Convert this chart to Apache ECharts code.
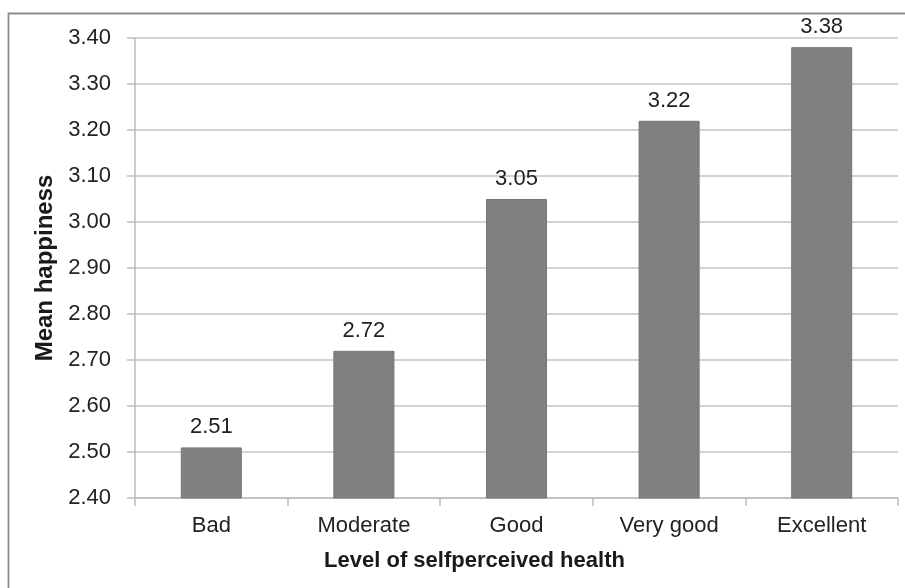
<!DOCTYPE html>
<html>
<head>
<meta charset="utf-8">
<script src="https://cdn.jsdelivr.net/npm/echarts@6/dist/echarts.min.js"></script>
<style>
  html, body { margin: 0; padding: 0; background: #fff; }
  #chart { width: 905px; height: 588px; }
</style>
</head>
<body>
<div id="chart"></div>
<script>
// Mean happiness by level of self-perceived health
const categories = ['Bad', 'Moderate', 'Good', 'Very good', 'Excellent'];
const meanHappiness = [2.51, 2.72, 3.05, 3.22, 3.38];
const yMin = 2.4;
const yMax = 3.4;
const yStep = 0.1;

const FONT = '"Liberation Sans", Arial, sans-serif';
const chart = echarts.init(document.getElementById('chart'));

chart.setOption({
  backgroundColor: '#ffffff',
  animation: false,
  graphic: [{
    type: 'rect',
    shape: { x: 8.5, y: 13.5, width: 1000, height: 1000 },
    style: { fill: 'none', stroke: '#8c8c8c', lineWidth: 1.8 },
    silent: true
  }],
  grid: { left: 135, right: 7, top: 38, bottom: 90 },
  xAxis: {
    type: 'category',
    data: categories,
    name: 'Level of selfperceived health',
    nameLocation: 'middle',
    nameGap: 52,
    nameTextStyle: {
      fontFamily: FONT, fontSize: 22, fontWeight: 'bold', color: '#1a1a1a',
      padding: [0, 84, 0, 0]
    },
    axisLine: { show: true, lineStyle: { color: '#bdbdbd', width: 1.5 } },
    axisTick: { show: true, length: 8, alignWithLabel: false, lineStyle: { color: '#bdbdbd', width: 1.5 } },
    axisLabel: { fontFamily: FONT, fontSize: 22, color: '#222', margin: 17 }
  },
  yAxis: {
    type: 'value',
    min: yMin,
    max: yMax,
    interval: yStep,
    name: 'Mean happiness',
    nameLocation: 'middle',
    nameGap: 77,
    nameTextStyle: { fontFamily: FONT, fontSize: 24, fontWeight: 'bold', color: '#1a1a1a' },
    axisLine: { show: true, lineStyle: { color: '#bdbdbd', width: 1.5 } },
    axisTick: { show: true, length: 8, lineStyle: { color: '#bdbdbd', width: 1.5 } },
    splitLine: { show: true, lineStyle: { color: '#c4c4c4', width: 1.5 } },
    axisLabel: {
      fontFamily: FONT, fontSize: 22, color: '#222', margin: 24,
      formatter: v => v.toFixed(2)
    }
  },
  series: [{
    type: 'bar',
    data: meanHappiness,
    barCategoryGap: '60%',
    itemStyle: { color: '#808080', borderColor: '#767676', borderWidth: 1 },
    label: {
      show: true,
      position: 'top',
      distance: 9,
      fontFamily: FONT,
      fontSize: 22,
      color: '#222',
      formatter: p => p.value.toFixed(2)
    }
  }]
});
</script>
</body>
</html>
